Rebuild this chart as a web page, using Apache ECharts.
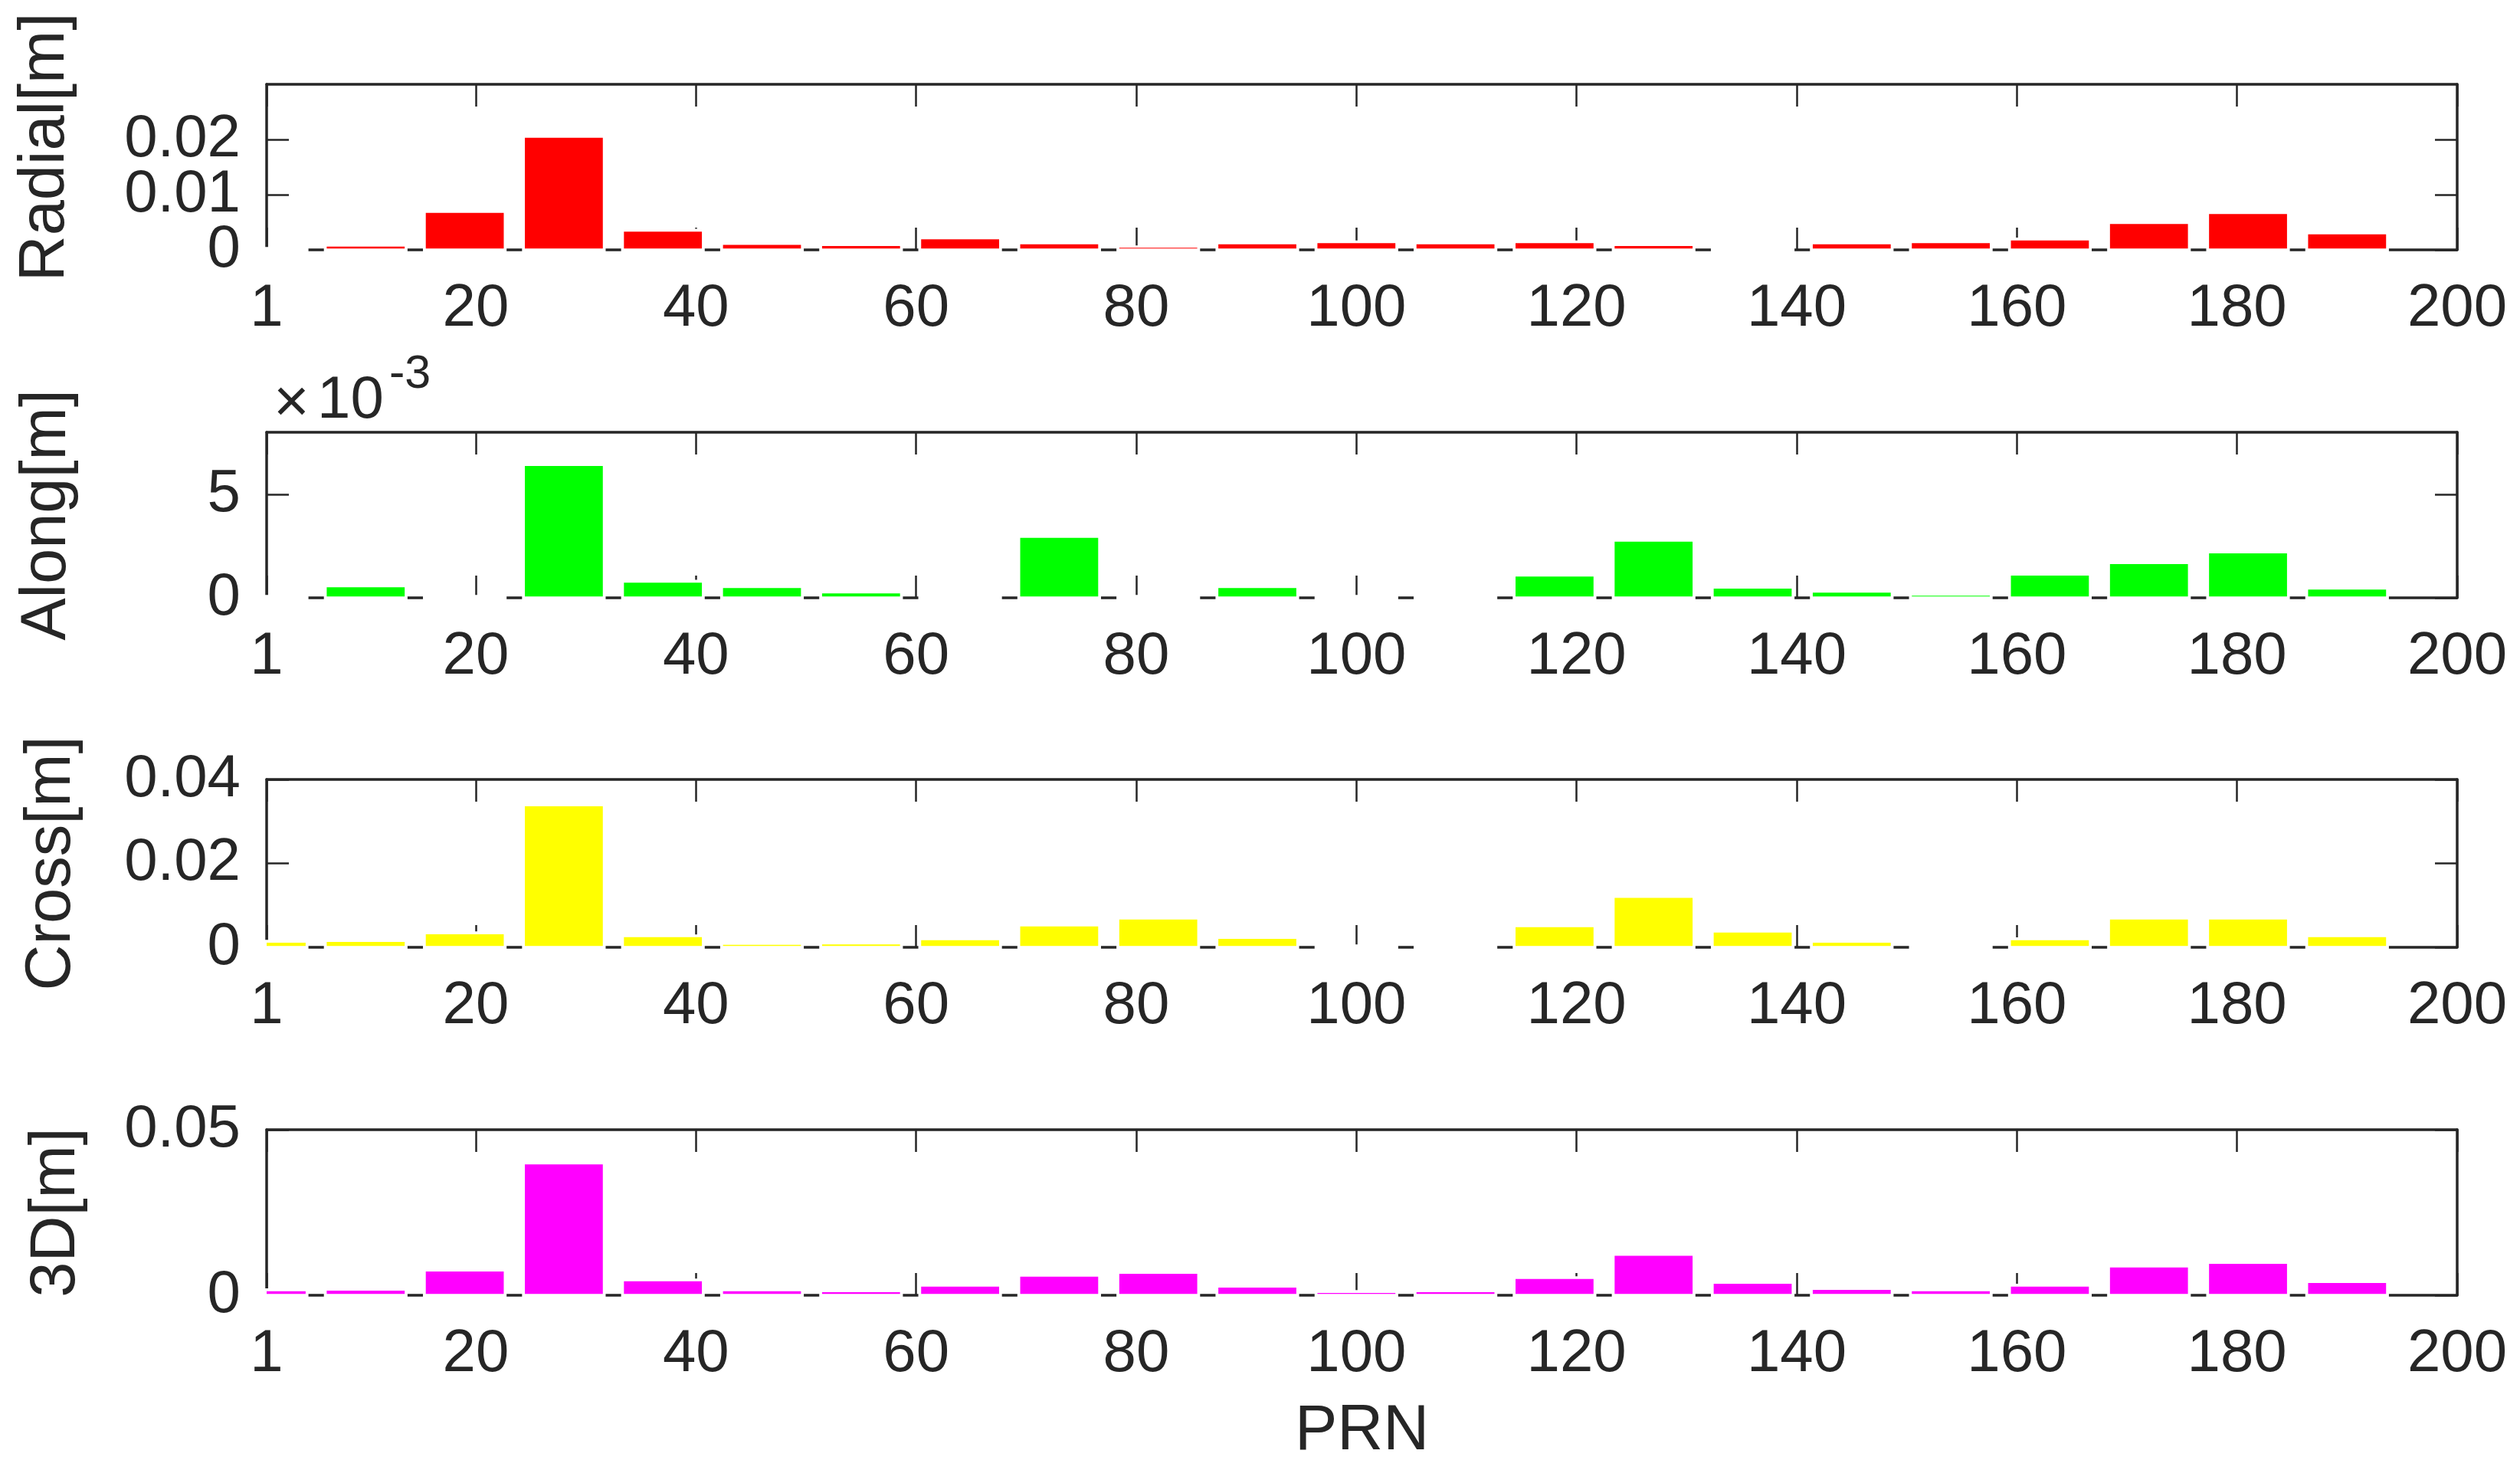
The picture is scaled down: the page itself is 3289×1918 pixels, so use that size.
<!DOCTYPE html>
<html>
<head>
<meta charset="utf-8">
<title>PRN orbit errors</title>
<script src="https://cdn.jsdelivr.net/npm/echarts@6.0.0/dist/echarts.min.js"></script>
<style>
  html, body { margin: 0; padding: 0; background: #fff; }
  #chart { width: 3289px; height: 1918px; }
</style>
</head>
<body>
<div id="chart"></div>
<script>
// PRN positions of the bars
const prn = [1, 10, 19, 28, 37, 46, 55, 64, 73, 82, 91, 100, 109, 118, 127, 136, 145, 154, 163, 172, 181, 190];
// values in metres
const radial = [0, 0.0006, 0.0067, 0.0203, 0.0033, 0.0009, 0.0007, 0.0019, 0.0010, 0.0003, 0.0010,
  0.0012, 0.0010, 0.0012, 0.0007, 0, 0.0010, 0.0012, 0.0017, 0.0047, 0.0065, 0.0028];
const along = [0, 0.00051, 0, 0.00637, 0.00073, 0.00047, 0.00021, 0, 0.00290, 0, 0.00047,
  0, 0, 0.00103, 0.00271, 0.00044, 0.00025, 0.00006, 0.00107, 0.00163, 0.00215, 0.00040];
const cross = [0.0011, 0.0013, 0.0031, 0.0336, 0.0024, 0.0006, 0.0007, 0.0017, 0.0050, 0.0066, 0.0020,
  0, 0, 0.0048, 0.0118, 0.0035, 0.0011, 0, 0.0017, 0.0066, 0.0066, 0.0024];
const err3d = [0.0012, 0.0014, 0.0072, 0.0395, 0.0042, 0.0012, 0.0009, 0.0026, 0.0056, 0.0065, 0.0023,
  0.0007, 0.0009, 0.0049, 0.0119, 0.0035, 0.0016, 0.0012, 0.0026, 0.0084, 0.0095, 0.0037];

// axis ticks
const xTicks = [1, 20, 40, 60, 80, 100, 120, 140, 160, 180, 200];
const radialTicks = [0, 0.01, 0.02];
const alongTicks = [0, 0.005];
const crossTicks = [0, 0.02, 0.04];
const err3dTicks = [0, 0.05];

const ink = '#262626';
const font = "'Liberation Sans', Arial, Helvetica, sans-serif";
const barStep = 9;        // PRN spacing between bars
const barFrac = 0.787;    // bar width as part of the spacing
const edge = 3.7;         // white bar edge, px

// one entry per subplot
const panels = [
  { name: 'Radial[m]', data: radial, color: '#ff0000', max: 0.03, ticks: radialTicks,
    top: 110, height: 216, nameGap: 246, namePad: 52 },
  { name: 'Along[m]', data: along, color: '#00ff00', max: 0.008, ticks: alongTicks,
    top: 564, height: 216, nameGap: 244, namePad: 0, fmt: v => String(Math.round(v * 1000)) },
  { name: 'Cross[m]', data: cross, color: '#ffff00', max: 0.04, ticks: crossTicks,
    top: 1017, height: 219, nameGap: 238, namePad: 0 },
  { name: '3D[m]', data: err3d, color: '#ff00ff', max: 0.05, ticks: err3dTicks,
    top: 1474, height: 216, nameGap: 232, namePad: 0 }
];

const lineStyle = { color: ink, width: 3.5 };
const tickStyle = { color: ink, width: 2.5 };

// bar with a white edge, clipped to the plot box like the original
function makeBar(color) {
  return function (params, api) {
    const x = api.value(0);
    const v = api.value(1);
    const cs = params.coordSys;
    const base = api.coord([x, 0]);
    const top = api.coord([x, v]);
    const w = api.size([barStep, 0])[0] * barFrac;
    const left = Math.max(base[0] - w / 2, cs.x);
    const right = Math.min(base[0] + w / 2, cs.x + cs.width);
    const children = [];
    // white edge: hides the base line and ticks behind the bar
    const eL = Math.max(base[0] - w / 2 - edge, cs.x - 2);
    const eR = Math.min(base[0] + w / 2 + edge, cs.x + cs.width);
    children.push({
      type: 'rect',
      shape: { x: eL, y: top[1] - edge, width: eR - eL, height: base[1] + 2.2 - (top[1] - edge) },
      style: { fill: '#ffffff' }
    });
    // keep very small values visible as a thin sliver
    const bottom = base[1] - 1.8;
    const y0 = v > 0 ? Math.min(top[1], bottom - 1) : top[1];
    const h = bottom - y0;
    if (h > 0 && right > left) {
      children.push({
        type: 'rect',
        shape: { x: left, y: y0, width: right - left, height: h },
        style: { fill: color }
      });
    }
    return { type: 'group', children: children };
  };
}

const grid = [], xAxis = [], yAxis = [], series = [];

panels.forEach((p, i) => {
  grid.push({ left: 348, right: 82, top: p.top, height: p.height });

  // bottom x axis with labels
  const xb = {
    gridIndex: i, type: 'value', min: 1, max: 200, position: 'bottom',
    axisLine: { show: true, onZero: false, lineStyle: lineStyle },
    axisTick: { show: true, inside: true, length: 29, customValues: xTicks, lineStyle: tickStyle },
    axisLabel: { show: true, customValues: xTicks, fontSize: 78, margin: 38, color: ink,
      fontFamily: font, hideOverlap: false, showMinLabel: true, showMaxLabel: true },
    splitLine: { show: false }
  };
  if (i === panels.length - 1) {
    xb.name = 'PRN';
    xb.nameLocation = 'middle';
    xb.nameGap = 137;
    xb.nameTextStyle = { fontSize: 83, color: ink, fontFamily: font };
  }
  xAxis.push(xb);
  // top x axis, ticks only
  xAxis.push({
    gridIndex: i, type: 'value', min: 1, max: 200, position: 'top',
    axisLine: { show: true, onZero: false, lineStyle: lineStyle },
    axisTick: { show: true, inside: true, length: 29, customValues: xTicks, lineStyle: tickStyle },
    axisLabel: { show: false },
    splitLine: { show: false }
  });

  // the big tick labels overlap their neighbours, and echarts would drop one of them,
  // so the ticks are split over two axes on each side
  const even = p.ticks.filter((t, k) => k % 2 === 0);
  const odd = p.ticks.filter((t, k) => k % 2 === 1);
  const fmt = p.fmt || (v => String(v));
  [['left', even, true], ['left', odd, false], ['right', even, true], ['right', odd, false]]
    .forEach(([pos, vals, main]) => {
      const ax = {
        gridIndex: i, type: 'value', min: 0, max: p.max, position: pos,
        axisLine: { show: main, onZero: false, lineStyle: lineStyle },
        axisTick: { show: true, inside: true, length: 29, customValues: vals, lineStyle: tickStyle },
        axisLabel: { show: false },
        splitLine: { show: false }
      };
      if (pos === 'left') {
        ax.axisLabel = { show: true, customValues: vals, fontSize: 78, margin: 34, color: ink,
          fontFamily: font, hideOverlap: false, formatter: fmt };
      }
      if (pos === 'left' && main) {
        ax.name = p.name;
        ax.nameLocation = 'middle';
        ax.nameGap = p.nameGap;
        ax.nameTextStyle = { fontSize: 83, color: ink, fontFamily: font, padding: [0, 0, 0, p.namePad] };
      }
      yAxis.push(ax);
    });

  series.push({
    type: 'custom',
    xAxisIndex: i * 2,
    yAxisIndex: i * 4,
    clip: false,
    data: prn.map((x, k) => [x, p.data[k]]),
    encode: { x: 0, y: 1 },
    renderItem: makeBar(p.color),
    silent: true
  });
});

const myChart = echarts.init(document.getElementById('chart'));
myChart.setOption({
  animation: false,
  backgroundColor: '#ffffff',
  grid: grid,
  xAxis: xAxis,
  yAxis: yAxis,
  series: series,
  // exponent of the Along axis
  graphic: [
    { type: 'text', x: 357, y: 528,
      style: { text: '\u00d7', fontSize: 80, fontFamily: font, fill: ink,
        align: 'left', verticalAlign: 'middle', textAlign: 'left', textVerticalAlign: 'middle' } },
    { type: 'text', x: 414, y: 523,
      style: { text: '10', fontSize: 78, fontFamily: font, fill: ink,
        align: 'left', verticalAlign: 'middle', textAlign: 'left', textVerticalAlign: 'middle' } },
    { type: 'text', x: 508, y: 489,
      style: { text: '-3', fontSize: 61, fontFamily: font, fill: ink,
        align: 'left', verticalAlign: 'middle', textAlign: 'left', textVerticalAlign: 'middle' } }
  ]
});
</script>
</body>
</html>
